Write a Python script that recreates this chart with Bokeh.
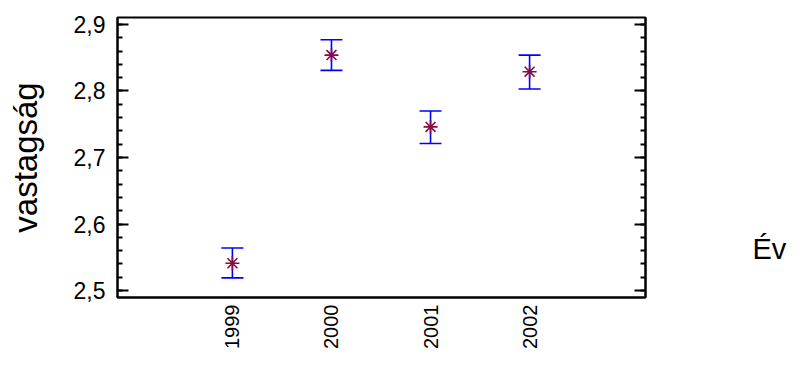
import math
from bokeh.plotting import figure
from bokeh.models import (Whisker, TeeHead, ColumnDataSource, LinearAxis, FixedTicker,
                          Range1d, Label)
from bokeh.layouts import row
from bokeh.embed import file_html
from bokeh.resources import INLINE

years = [1999, 2000, 2001, 2002]
year_labels = ["1999", "2000", "2001", "2002"]
means = [2.541, 2.854, 2.746, 2.829]
lower = [2.519, 2.831, 2.721, 2.803]
upper = [2.564, 2.877, 2.770, 2.854]
y_ticks = [2.5, 2.6, 2.7, 2.8, 2.9]
y_tick_labels = ["2,5", "2,6", "2,7", "2,8", "2,9"]
y_label = "vastagság"
x_label = "Év"

FONT = "Liberation Sans"

src = ColumnDataSource(dict(x=years, y=means, lo=lower, hi=upper))

P_W, P_H = 650, 357
p = figure(width=P_W, height=P_H, output_backend="svg", toolbar_location=None,
           x_range=Range1d(1997.84, 2003.17), y_range=Range1d(2.4895, 2.9105),
           min_border_left=117, min_border_right=5, min_border_top=17,
           min_border_bottom=60, background_fill_color="white",
           border_fill_color="white")
p.grid.visible = False
p.outline_line_color = "black"
p.outline_line_width = 2

# x axis
xa = p.xaxis[0]
xa.ticker = FixedTicker(ticks=years)
xa.major_label_overrides = {y: l for y, l in zip(years, year_labels)}
xa.major_label_orientation = math.pi / 2
xa.major_tick_in = 0
xa.major_tick_out = 0
xa.minor_tick_in = 0
xa.minor_tick_out = 0
xa.axis_line_width = 2
xa.major_label_text_font = FONT
xa.major_label_text_font_size = "20px"
xa.major_label_text_color = "black"
xa.major_label_standoff = 7

# y axis
minor = [round(2.5 + 0.02 * i, 2) for i in range(21)]
ya = p.yaxis[0]
ya.ticker = FixedTicker(ticks=y_ticks, minor_ticks=minor)
ya.major_label_overrides = {t: l for t, l in zip(y_ticks, y_tick_labels)}
ya.major_tick_in = 11
ya.major_tick_out = 0
ya.minor_tick_in = 5
ya.minor_tick_out = 0
ya.major_tick_line_width = 2
ya.minor_tick_line_width = 2
ya.axis_line_width = 2
ya.major_label_text_font = FONT
ya.major_label_text_font_size = "23px"
ya.major_label_text_color = "black"
ya.major_label_standoff = 12
ya.axis_label = y_label
ya.axis_label_text_font = FONT
ya.axis_label_text_font_size = "33px"
ya.axis_label_text_font_style = "normal"
ya.axis_label_text_color = "black"
ya.axis_label_standoff = 27

ra = LinearAxis(ticker=FixedTicker(ticks=y_ticks, minor_ticks=minor))
ra.major_tick_in = 11
ra.major_tick_out = 0
ra.minor_tick_in = 5
ra.minor_tick_out = 0
ra.major_tick_line_width = 2
ra.minor_tick_line_width = 2
ra.axis_line_width = 2
ra.major_label_text_font_size = "0px"
ra.major_label_text_color = None
ra.major_label_standoff = 0
p.add_layout(ra, "right")

w = Whisker(source=src, base="x", upper="hi", lower="lo", dimension="height",
            line_color="#0000ff", line_width=1.6,
            upper_head=TeeHead(size=22, line_color="#0000ff", line_width=1.6),
            lower_head=TeeHead(size=22, line_color="#0000ff", line_width=1.6))
p.add_layout(w)

p.scatter("x", "y", source=src, marker="asterisk", size=14,
          line_color="#850a45", line_width=1.6)

# side panel for the x axis title, placed to the right as in the reference
Q_W = 140
q = figure(width=Q_W, height=P_H, output_backend="svg", toolbar_location=None,
           x_range=Range1d(0, Q_W), y_range=Range1d(0, P_H),
           min_border=0, background_fill_color="white", border_fill_color="white")
q.axis.visible = False
q.grid.visible = False
q.outline_line_color = None
q.add_layout(Label(x=752 - P_W, y=P_H - 295, text=x_label, text_font=FONT,
                   text_font_size="29px", text_color="black",
                   text_baseline="alphabetic"))

layout = row(p, q, spacing=0)
open("out.html", "w").write(file_html(layout, INLINE))
